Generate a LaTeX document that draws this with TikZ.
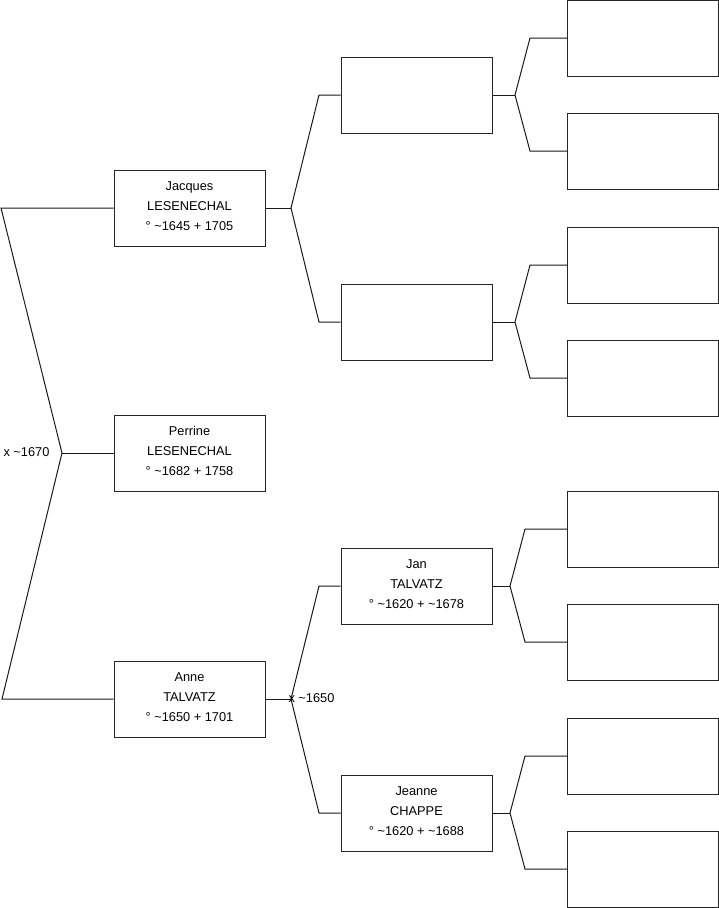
\documentclass[tikz,border=0pt]{standalone}
\usepackage{fontspec}
\setmainfont{Liberation Sans}
\begin{document}
\begin{tikzpicture}[x=1pt,y=-1pt,line width=1pt,
  person/.style={draw=black!85,fill=white,minimum width=151pt,minimum height=76pt,inner sep=0pt,align=center,font=\fontsize{12.8}{20}\selectfont},
  lbl/.style={inner sep=0pt,anchor=west,font=\fontsize{12.8}{15}\selectfont},
  link/.style={draw=black!90}]
\useasboundingbox (0,0) rectangle (719,908);
% left column
\node[person] (jacques) at (189.5,208) {Jacques\\LESENECHAL\\° \textasciitilde1645 + 1705\rule[-4pt]{0pt}{0pt}};
\node[person] (perrine) at (189.5,453) {Perrine\\LESENECHAL\\° \textasciitilde1682 + 1758\rule[-4pt]{0pt}{0pt}};
\node[person] (anne) at (189.5,699) {Anne\\TALVATZ\\° \textasciitilde1650 + 1701\rule[-4pt]{0pt}{0pt}};
% middle column
\node[person] (m1) at (416.5,95) {};
\node[person] (m2) at (416.5,322) {};
\node[person] (jan) at (416.5,586) {Jan\\TALVATZ\\° \textasciitilde1620 + \textasciitilde1678\rule[-4pt]{0pt}{0pt}};
\node[person] (jeanne) at (416.5,813) {Jeanne\\CHAPPE\\° \textasciitilde1620 + \textasciitilde1688\rule[-4pt]{0pt}{0pt}};
% right column
\node[person] (r1) at (643,38) {};
\node[person] (r2) at (643,151) {};
\node[person] (r3) at (643,265) {};
\node[person] (r4) at (643,378) {};
\node[person] (r5) at (643,529) {};
\node[person] (r6) at (643,642) {};
\node[person] (r7) at (643,756) {};
\node[person] (r8) at (643,869) {};
% junction coordinates
\coordinate (jp) at (62,453);
\coordinate (jpa) at (1,208);
\coordinate (jpb) at (2,699);
\coordinate (jj) at (291,208);
\coordinate (jja) at (319,95);
\coordinate (jjb) at (319,322);
\coordinate (ja) at (291,699);
\coordinate (jaa) at (319,586);
\coordinate (jab) at (319,813);
\coordinate (k1) at (515,95);   \coordinate (k1a) at (530,38);  \coordinate (k1b) at (530,151);
\coordinate (k2) at (515,322);  \coordinate (k2a) at (530,265); \coordinate (k2b) at (530,378);
\coordinate (k3) at (510,586);  \coordinate (k3a) at (525,529); \coordinate (k3b) at (525,642);
\coordinate (k4) at (510,813);  \coordinate (k4a) at (525,756); \coordinate (k4b) at (525,869);
% connectors
\draw[link] (perrine.west) -- (jp);
\draw[link] (jacques.west) -- (jpa) -- (jp) -- (jpb) -- (anne.west);
\draw[link] (jacques.east) -- (jj);
\draw[link] (m1.west) -- (jja) -- (jj) -- (jjb) -- (m2.west);
\draw[link] (anne.east) -- (ja);
\draw[link] (jan.west) -- (jaa) -- (ja) -- (jab) -- (jeanne.west);
\draw[link] (m1.east) -- (k1);
\draw[link] (r1.west) -- (k1a) -- (k1) -- (k1b) -- (r2.west);
\draw[link] (m2.east) -- (k2);
\draw[link] (r3.west) -- (k2a) -- (k2) -- (k2b) -- (r4.west);
\draw[link] (jan.east) -- (k3);
\draw[link] (r5.west) -- (k3a) -- (k3) -- (k3b) -- (r6.west);
\draw[link] (jeanne.east) -- (k4);
\draw[link] (r7.west) -- (k4a) -- (k4) -- (k4b) -- (r8.west);
% marriage labels
\node[lbl] (m1670) at (3,452) {x \textasciitilde1670};
\node[lbl] (m1650) at (288,698) {x \textasciitilde1650};
\end{tikzpicture}
\end{document}
